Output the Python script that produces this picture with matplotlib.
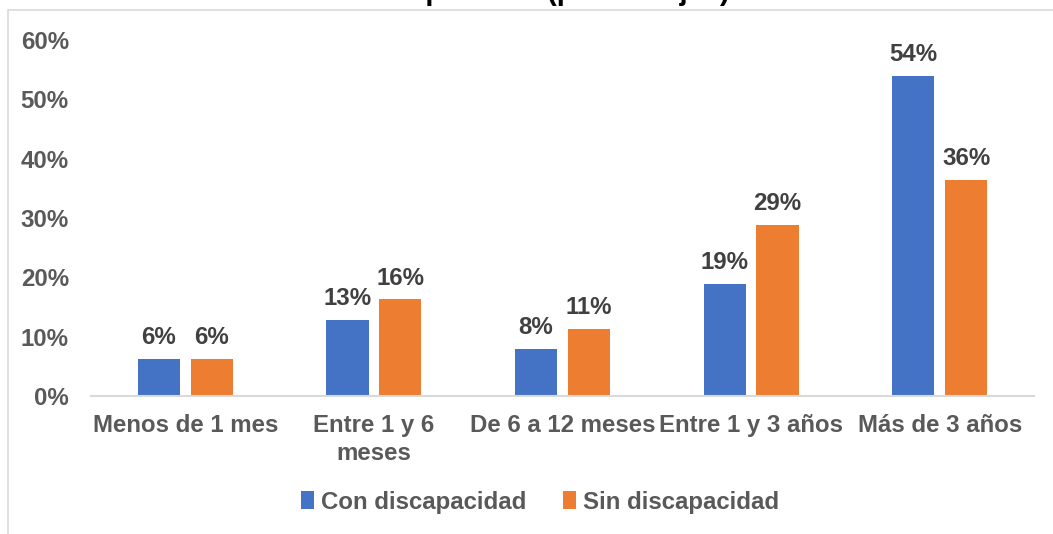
import numpy as np
import matplotlib.pyplot as plt
from matplotlib.patches import Rectangle

categories = ["Menos de 1 mes", "Entre 1 y 6\nmeses", "De 6 a 12 meses", "Entre 1 y 3 años", "Más de 3 años"]
con_discapacidad = [6.2, 12.8, 8.0, 18.9, 53.9]
sin_discapacidad = [6.2, 16.3, 11.3, 28.8, 36.4]
series_names = ["Con discapacidad", "Sin discapacidad"]
yticks = [0, 10, 20, 30, 40, 50, 60]

plt.rcParams["font.family"] = ["Liberation Sans", "DejaVu Sans"]
plt.rcParams["font.weight"] = "bold"

W, H = 1053, 534
fs = 17.3
fig = plt.figure(figsize=(W / 100, H / 100), dpi=100)
ax = fig.add_axes([91 / W, 1 - 396 / H, (1034 - 91) / W, (396 - 40) / H])

# chart border and the clipped title line (only its bottom shows in the source)
fig.patches.append(Rectangle((8 / W, -0.1), 1.2, 1 - 10 / H + 0.1, transform=fig.transFigure,
                             fill=False, ec="#d9d9d9", lw=1.2))
fig.text(531 / W, 1 + 0.5 / H, "de los parados (porcentajes)", ha="center", va="baseline",
         fontsize=21, fontweight="bold", color="black")

x = np.arange(len(categories))
w = 0.223
off = 0.14
b1 = ax.bar(x - off, con_discapacidad, w, color="#4472C4", label=series_names[0])
b2 = ax.bar(x + off, sin_discapacidad, w, color="#ED7D31", label=series_names[1])

for bars, vals in [(b1, con_discapacidad), (b2, sin_discapacidad)]:
    for r, v in zip(bars, vals):
        ax.annotate(f"{v:.0f}%", (r.get_x() + r.get_width() / 2, v), xytext=(0, 7),
                    textcoords="offset points", ha="center", va="bottom",
                    fontsize=fs, fontweight="bold", color="#404040")

ax.set_xlim(-0.5, len(categories) - 0.5)
ax.set_ylim(0, 60)
ax.set_yticks(yticks)
ax.set_yticklabels([f"{t}%" for t in yticks])
ax.set_xticks(x)
ax.set_xticklabels(categories, linespacing=1.25)
ax.tick_params(axis="both", length=0, labelsize=fs, labelcolor="#595959")
ax.tick_params(axis="x", pad=13)
ax.tick_params(axis="y", pad=16)

for s in ["top", "right", "left"]:
    ax.spines[s].set_visible(False)
ax.spines["bottom"].set_color("#d9d9d9")
ax.spines["bottom"].set_linewidth(1.5)

fig.legend(loc="center", bbox_to_anchor=(540 / W, 1 - 502 / H), ncol=2, frameon=False,
           handlelength=0.55, handleheight=0.75, handletextpad=0.3, columnspacing=1.5,
           prop={"size": fs, "weight": "bold"}, labelcolor="#595959")

fig.savefig("out.png", dpi=100)
